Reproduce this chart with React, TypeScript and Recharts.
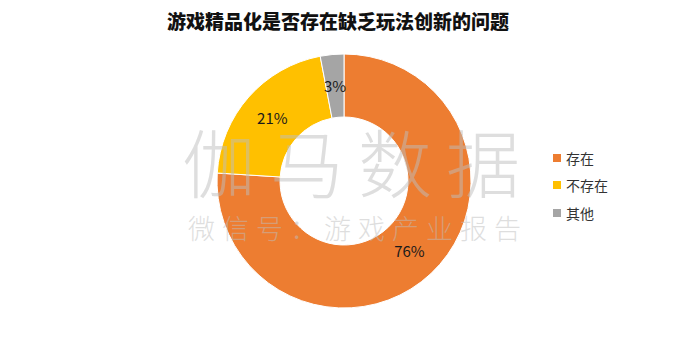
import React from 'react';
import { PieChart, Pie, Cell, Legend } from 'recharts';

const TITLE = '游戏精品化是否存在缺乏玩法创新的问题';
const categories = ['存在', '不存在', '其他'];
const values = [76, 21, 3];
const colors = ['#ED7D31', '#FFC000', '#A5A5A5'];
const WATERMARK_MAIN = '伽马数据';
const WATERMARK_SUB = '微信号：游戏产业报告';

const data = categories.map((name, i) => ({ name, value: values[i] }));

const FONT = '"Noto Sans CJK SC", "Noto Sans", sans-serif';
const RAD = Math.PI / 180;

const renderLabel = (props: any) => {
  const { cx, cy, midAngle, innerRadius, outerRadius, value } = props;
  const r = (innerRadius + outerRadius) / 2;
  const x = cx + r * Math.cos(-midAngle * RAD);
  const y = cy + r * Math.sin(-midAngle * RAD);
  return (
    <text x={x} y={y} fill="#1a1a1a" fontSize={15} fontFamily={FONT} textAnchor="middle" dominantBaseline="central">
      {value}%
    </text>
  );
};

const LegendContent = () => (
  <div style={{ fontFamily: FONT, fontSize: 14, color: '#333' }}>
    {categories.map((c, i) => (
      <div key={c} style={{ display: 'flex', alignItems: 'center', height: 27.5 }}>
        <span style={{ display: 'inline-block', width: 8, height: 8, background: colors[i], marginRight: 5 }} />
        <span>{c}</span>
      </div>
    ))}
  </div>
);

export default function App() {
  return (
    <div style={{ position: 'absolute', left: 0, top: 0, width: 700, height: 340, background: '#fff' }}>
      <div style={{ position: 'absolute', left: 0, top: 8, width: 700, textAlign: 'center', fontFamily: FONT, fontWeight: 900, fontSize: 19, color: '#111', lineHeight: '26px', paddingRight: 24, boxSizing: 'border-box' }}>
        {TITLE}
      </div>
      <PieChart width={700} height={340} margin={{ top: 0, right: 0, bottom: 0, left: 0 }} style={{ position: 'absolute', left: 0, top: 0 }}>
        <Pie
          data={data}
          dataKey="value"
          nameKey="name"
          cx={344}
          cy={181}
          innerRadius={64}
          outerRadius={127}
          startAngle={90}
          endAngle={-270}
          stroke="#fff"
          strokeWidth={1}
          label={renderLabel}
          labelLine={false}
          isAnimationActive={false}
        >
          {data.map((d, i) => (
            <Cell key={d.name} fill={colors[i]} />
          ))}
        </Pie>
        <Legend content={<LegendContent />} wrapperStyle={{ position: 'absolute', left: 553, top: 144, width: 100 }} />
      </PieChart>
      <svg width={700} height={340} style={{ position: 'absolute', left: 0, top: 0, pointerEvents: 'none' }}>
        <text x={358} y={192} textAnchor="middle" fontFamily={FONT} fontWeight={300} fontSize={74} letterSpacing={14} fill="#bdbdbd" fillOpacity={0.5}>
          {WATERMARK_MAIN}
        </text>
        <text x={358} y={239} textAnchor="middle" fontFamily={FONT} fontWeight={300} fontSize={27} letterSpacing={7} fill="#bdbdbd" fillOpacity={0.5}>
          {WATERMARK_SUB}
        </text>
      </svg>
    </div>
  );
}
